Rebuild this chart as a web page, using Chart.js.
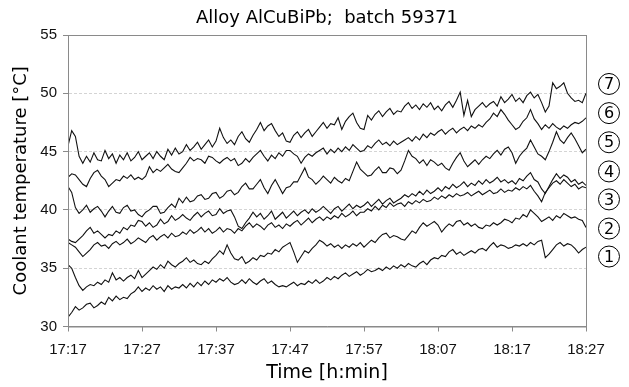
<!DOCTYPE html>
<html>
<head>
<meta charset="utf-8">
<script src="https://cdn.jsdelivr.net/npm/chart.js@4/dist/chart.umd.min.js"></script>
<style>
  body { margin: 0; background: #fff; }
  #wrap { width: 629px; height: 387px; }
</style>
</head>
<body>
<div id="wrap"><canvas id="tempCanvas" width="629" height="387"></canvas></div>
<script>
// time axis: minutes after 17:17, one sample every half minute
let sampleStep = 0.5;
let timeLabels = ['17:17', '17:27', '17:37', '17:47', '17:57', '18:07', '18:17', '18:27'];
let seriesNames = ['1', '2', '3', '4', '5', '6', '7'];
// where the circled numbers sit on the right, in °C
let labelTemps = [36.0, 38.4, 40.9, 43.3, 45.8, 48.3, 50.8];
let chartTitle = 'Alloy AlCuBiPb;  batch 59371';

let temp1 = [30.8, 31.2, 31.7, 31.4, 31.6, 31.9, 32.0, 31.6, 31.8, 32.1,
    31.9, 32.5, 32.2, 32.6, 32.3, 32.5, 32.4, 32.8, 33.0, 33.4,
    33.0, 33.3, 33.1, 33.5, 33.2, 33.4, 33.0, 33.5, 33.2, 33.4,
    33.3, 33.6, 33.3, 33.7, 33.4, 33.8, 33.5, 33.9, 33.6, 34.0,
    33.8, 34.1, 33.9, 34.2, 33.8, 33.6, 33.7, 34.0, 33.7, 34.1,
    33.8, 33.6, 33.9, 34.1, 33.7, 33.9, 33.6, 33.4, 33.5, 33.4,
    33.6, 33.8, 33.5, 33.7, 33.6, 33.9, 33.7, 34.0, 33.7, 33.9,
    34.2, 34.0, 34.3, 34.1, 34.4, 34.6, 34.3, 34.5, 34.7, 34.4,
    34.6, 34.9, 34.7, 34.8, 35.0, 34.8, 35.1, 34.9, 35.2, 35.0,
    35.3, 35.1, 35.4, 35.2, 35.1, 35.4, 35.6, 35.3, 35.7, 35.9,
    35.8, 36.1, 36.0, 36.4, 36.6, 36.2, 36.4, 36.1, 36.3, 36.5,
    36.3, 36.6, 36.7, 36.5, 36.9, 37.2, 36.8, 37.0, 36.9, 36.7,
    36.8, 37.0, 36.9, 37.1, 36.9, 37.2, 37.0, 37.3, 37.4, 35.9,
    36.2, 36.6, 37.0, 37.2, 36.9, 37.1, 37.0, 36.7, 36.3, 36.6,
    36.8];

let temp2 = [35.3, 35.0, 34.2, 33.5, 33.1, 33.4, 33.6, 33.5, 33.8, 33.6,
    34.0, 33.8, 34.6, 34.0, 34.2, 33.9, 34.2, 34.4, 34.1, 34.8,
    34.2, 34.5, 34.8, 35.1, 34.9, 35.3, 35.0, 35.6, 35.3, 35.1,
    35.4, 35.6, 35.9, 35.5, 35.7, 35.4, 35.3, 35.6, 35.4, 35.8,
    36.1, 36.5, 36.2, 37.0, 36.3, 35.8, 35.7, 36.0, 35.4, 35.6,
    35.9, 35.7, 36.1, 36.0, 36.3, 36.2, 36.6, 36.4, 36.8, 37.0,
    37.2, 36.4, 35.5, 36.0, 36.5, 36.3, 36.7, 37.0, 37.4, 37.2,
    36.9, 37.1, 36.8, 37.0, 36.7, 37.0, 36.8, 37.1, 36.9, 37.2,
    36.8, 37.1, 37.4, 37.2, 37.6, 37.9, 38.0, 37.6, 37.8, 37.7,
    37.5, 37.4, 37.8, 38.2, 38.0, 38.5, 38.9, 38.6, 38.8, 39.0,
    38.7, 38.1, 38.5, 38.8, 38.6, 39.0, 39.1, 38.7, 38.9, 38.6,
    38.8, 38.5, 38.4, 38.7, 38.6, 38.9, 38.7, 38.9, 39.2, 39.1,
    38.9, 39.3, 39.2, 39.6, 39.4, 40.0, 39.7, 39.4, 39.0, 39.2,
    39.4, 39.1, 39.5, 39.3, 39.7, 39.5, 39.3, 39.4, 39.2, 39.1,
    38.5];

let temp3 = [37.2, 37.0, 36.8, 36.4, 36.0, 36.3, 36.6, 37.0, 37.2, 36.9,
    37.0, 36.7, 37.1, 37.3, 37.0, 37.2, 37.5, 37.1, 37.3, 37.6,
    37.4, 37.2, 37.6, 37.8, 37.4, 37.7, 37.9, 37.6, 38.0, 37.7,
    37.8, 38.1, 37.9, 38.3, 38.0, 38.2, 38.5, 38.1, 38.4, 38.0,
    38.2, 38.5, 38.1, 38.4, 38.3, 38.0, 38.4, 38.2, 38.6, 38.9,
    38.5, 38.8, 38.6, 38.3, 38.7, 38.9, 38.5, 38.7, 38.4, 38.8,
    38.6, 38.9, 39.1, 38.7, 39.0, 39.3, 38.9, 39.2, 39.4, 39.1,
    39.4, 39.2, 39.5, 39.3, 39.7, 39.4, 39.6, 39.9, 39.5, 39.8,
    39.8, 40.1, 39.9, 40.3, 40.0, 40.4, 40.2, 40.6, 40.3, 40.5,
    40.6, 40.3, 40.7, 40.5, 40.8, 40.6, 40.9, 40.7, 40.8, 41.1,
    40.9, 41.2, 41.0, 41.3, 41.1, 41.4, 41.2, 41.3, 41.5, 41.2,
    41.4, 41.6, 41.3, 41.5, 41.7, 41.4, 41.5, 41.8, 41.5, 41.7,
    41.6, 41.9, 41.7, 42.0, 41.8, 42.1, 41.6, 41.2, 40.7, 41.5,
    41.9, 42.3, 42.5, 42.2, 42.6, 42.3, 42.0, 42.2, 41.8, 42.0,
    41.9];

let temp4 = [37.5, 37.3, 37.2, 37.5, 37.8, 38.2, 38.5, 38.0, 38.2, 37.9,
    37.6, 37.9, 37.8, 38.2, 38.0, 38.5, 38.3, 38.7, 38.6, 39.1,
    39.0, 38.6, 38.9, 38.5, 38.7, 39.2, 38.8, 39.0, 39.5, 39.1,
    39.3, 39.6, 39.3, 39.1, 39.5, 39.8, 39.4, 39.7, 39.9, 39.5,
    39.6, 40.1, 39.7, 39.9, 40.0, 39.4, 38.6, 38.4, 38.9, 39.3,
    39.8, 39.4, 39.7, 39.2, 39.5, 39.9, 39.2, 39.5, 39.8, 39.3,
    39.6, 39.9, 39.5, 39.8, 40.0, 39.7, 40.1, 39.8, 40.0, 40.3,
    40.0, 39.7, 40.1, 40.3, 39.9, 40.2, 40.5, 40.1, 40.4, 40.2,
    40.4, 40.7, 40.3, 40.6, 40.9, 40.5, 40.8, 41.0, 40.6, 40.8,
    41.0, 41.3, 41.1, 41.4, 41.2, 41.6, 41.3, 41.7, 41.4, 41.6,
    41.9, 41.6, 42.0, 41.8, 42.2, 41.9, 42.1, 42.4, 42.0, 42.3,
    42.1, 42.5, 42.2, 42.6, 42.3, 42.5, 42.8, 42.4, 42.6, 42.3,
    42.5, 42.2, 42.7, 42.5, 42.9, 43.2, 42.6, 42.4, 41.8, 41.4,
    42.0, 42.6, 43.1, 42.7, 43.0, 42.8, 42.4, 42.6, 42.2, 42.4,
    42.1];

let temp5 = [42.0, 41.5, 40.2, 39.7, 40.0, 40.4, 39.8, 40.1, 40.3, 39.9,
    39.4, 39.9, 40.3, 39.8, 39.7, 40.2, 40.4, 39.9, 40.0, 39.6,
    39.4, 39.8, 40.0, 40.3, 40.3, 39.7, 39.8, 40.2, 40.5, 40.2,
    41.0, 40.6, 41.1, 40.7, 40.8, 41.2, 41.3, 40.9, 41.0, 41.4,
    41.5, 41.0, 41.2, 41.6, 41.7, 41.3, 41.5, 42.0, 42.3, 41.8,
    41.8, 42.2, 42.6, 41.9, 41.4, 42.1, 42.6, 42.0, 41.4, 41.9,
    42.0, 42.4, 42.4, 43.0, 43.6, 42.8, 42.6, 42.2, 42.5, 42.9,
    42.6, 42.3, 42.8, 42.5, 42.3, 42.7, 42.5, 43.3, 44.1, 43.5,
    43.2, 42.9, 43.0, 43.4, 43.7, 43.2, 43.2, 43.6, 43.5, 43.1,
    43.4, 44.2, 45.1, 44.6, 44.4, 44.0, 44.3, 43.8, 44.3, 44.1,
    43.8, 44.0, 43.6, 43.4, 44.0, 44.5, 44.9, 44.2, 43.7, 44.0,
    44.3, 43.9, 44.3, 44.6, 44.4, 44.8, 45.1, 44.7, 45.2, 45.4,
    44.9, 44.0, 44.6, 45.0, 45.3, 46.0, 45.4, 44.8, 44.6, 44.3,
    45.0, 45.8, 46.7, 46.0, 45.7, 46.2, 46.6, 46.1, 45.5, 44.9,
    45.2];

let temp6 = [42.8, 43.1, 43.0, 42.6, 42.2, 42.0, 42.7, 43.2, 43.4, 42.9,
    42.6, 42.0, 42.3, 42.6, 42.5, 42.9, 42.7, 43.0, 42.6, 42.8,
    42.6, 42.9, 43.7, 43.2, 43.5, 43.3, 43.6, 43.9, 43.5, 43.3,
    43.2, 43.6, 44.0, 44.5, 44.2, 44.4, 44.3, 44.0, 44.6, 44.5,
    44.2, 44.0, 44.3, 44.5, 44.2, 44.4, 43.8, 44.0, 44.4, 44.1,
    44.5, 44.8, 45.1, 44.6, 44.2, 44.7, 44.4, 44.9, 44.6, 45.1,
    45.1, 44.8, 44.6, 44.0, 44.5, 44.8, 44.6, 44.9, 45.1, 45.3,
    44.8, 45.2, 44.9, 45.3, 45.0, 45.4, 45.1, 45.6, 45.3, 45.0,
    45.1, 45.5, 45.3, 45.7, 46.0, 45.6, 45.8, 45.5, 45.9, 45.6,
    45.8, 46.0, 46.2, 45.9, 46.3, 46.0, 46.5, 46.2, 46.6, 46.4,
    46.7, 46.9, 46.5, 46.8, 47.0, 46.6, 46.9, 47.1, 46.8, 47.2,
    47.0, 47.3, 47.1, 47.5, 47.8, 48.3, 48.0, 48.6, 48.2, 47.7,
    47.3, 46.9, 47.1, 47.6, 47.9, 48.6, 47.8, 47.4, 46.9, 47.3,
    47.0, 47.4, 47.1, 46.9, 47.2, 47.0, 47.3, 47.5, 47.4, 47.6,
    47.9];

let temp7 = [45.5, 46.8, 46.3, 44.6, 44.0, 44.6, 44.1, 44.9, 44.3, 44.2,
    45.1, 44.4, 44.8, 44.0, 44.7, 44.3, 44.9, 44.2, 44.5, 45.0,
    44.3, 44.6, 44.9, 44.4, 45.0, 44.6, 44.3, 45.2, 44.7, 45.3,
    44.8, 45.0, 45.6, 45.1, 45.4, 45.8, 45.2, 45.6, 46.0, 45.4,
    45.9, 47.0, 46.2, 45.7, 46.0, 45.6, 46.3, 46.7, 46.1, 45.8,
    46.4, 46.9, 47.5, 46.8, 47.2, 47.4, 46.8, 46.3, 46.6, 45.9,
    45.8, 46.4, 46.7, 46.2, 46.6, 46.9, 46.3, 46.7, 47.1, 47.5,
    47.0, 47.4, 47.3, 47.9, 46.9, 47.6, 48.0, 48.3, 47.5, 47.0,
    46.9, 48.1, 47.7, 48.2, 48.5, 48.0, 48.4, 48.7, 48.2, 48.5,
    48.4, 48.9, 49.2, 48.7, 49.0, 48.6, 49.1, 48.8, 49.2, 48.6,
    48.9, 48.5, 49.0, 49.3, 48.8, 49.4, 50.1, 48.1, 49.4, 48.0,
    48.6, 48.9, 49.2, 48.8, 49.1, 49.3, 48.9, 49.7, 49.2, 49.5,
    49.9, 49.3, 49.6, 49.2, 49.8, 50.1, 49.6, 49.9, 49.2, 48.4,
    48.9, 50.9, 50.4, 50.6, 50.9, 50.0, 49.6, 49.3, 49.4, 49.2,
    50.0];

let allSeries = [temp1, temp2, temp3, temp4, temp5, temp6, temp7];

let canvas = document.getElementById("tempCanvas");
let ctx = canvas.getContext("2d");

function toPoints(values) {
    let points = [];
    for (let i = 0; i < values.length; i++) {
        points.push({ x: i * sampleStep, y: values[i] });
    }
    return points;
}

let datasets = [];
for (let i = 0; i < allSeries.length; i++) {
    datasets.push({
        label: seriesNames[i],
        data: toPoints(allSeries[i]),
        borderColor: '#111',
        borderWidth: 1.1,
        pointRadius: 0,
        tension: 0,
        fill: false
    });
}

// title centred over the plot, grey box round the plot, circled series numbers
let framePlugin = {
    id: 'frameAndTags',
    afterDatasetsDraw(chart) {
        let area = chart.chartArea;
        let c = chart.ctx;
        c.save();
        c.strokeStyle = '#8a8a8a';
        c.lineWidth = 1;
        c.strokeRect(area.left + 0.5, area.top + 0.5, area.right - area.left, area.bottom - area.top);

        c.fillStyle = '#000';
        c.font = '18px "DejaVu Sans"';
        c.textAlign = 'center';
        c.textBaseline = 'middle';
        c.fillText(chartTitle, (area.left + area.right) / 2, 18);

        let yScale = chart.scales.y;
        c.font = '16px "DejaVu Sans"';
        c.strokeStyle = '#000';
        for (let i = 0; i < seriesNames.length; i++) {
            let cy = yScale.getPixelForValue(labelTemps[i]);
            let cx = 609;
            c.beginPath();
            c.arc(cx, cy, 10.5, 0, Math.PI * 2);
            c.stroke();
            c.fillText(seriesNames[i], cx, cy + 1);
        }
        c.restore();
    }
};

let tempChart = new Chart(ctx, {
    type: 'line',
    data: { datasets: datasets },
    plugins: [framePlugin],
    options: {
        responsive: false,
        animation: false,
        layout: { padding: { left: 0, right: 43, top: 35, bottom: 0 } },
        plugins: {
            legend: { display: false },
            tooltip: { enabled: false },
            title: { display: false }
        },
        scales: {
            x: {
                type: 'linear',
                min: 0,
                max: 70,
                afterFit(scale) { scale.height = 60.5; },
                ticks: {
                    stepSize: 10,
                    color: '#111',
                    font: { family: '"Liberation Sans"', size: 15 },
                    padding: 9,
                    maxRotation: 0,
                    callback: function (value) {
                        return timeLabels[Math.round(value / 10)];
                    }
                },
                grid: {
                    drawOnChartArea: false,
                    tickLength: 5,
                    tickColor: '#8a8a8a'
                },
                border: { color: '#8a8a8a' },
                title: {
                    display: true,
                    text: 'Time [h:min]',
                    color: '#000',
                    font: { family: '"DejaVu Sans"', size: 19 },
                    padding: { top: 0, bottom: 3 }
                }
            },
            y: {
                min: 30,
                max: 55,
                afterFit(scale) { scale.width = 68; },
                ticks: {
                    stepSize: 5,
                    color: '#111',
                    font: { family: '"Liberation Sans"', size: 15 },
                    padding: 6
                },
                grid: {
                    color: function (c) {
                        if (c.tick && (c.tick.value === 30 || c.tick.value === 55)) return 'rgba(0,0,0,0)';
                        return '#d4d4d4';
                    },
                    tickLength: 5,
                    tickColor: '#8a8a8a',
                    tickBorderDash: []
                },
                border: { color: '#8a8a8a', dash: [3, 2] },
                title: {
                    display: true,
                    text: 'Coolant temperature [°C]',
                    color: '#000',
                    font: { family: '"DejaVu Sans"', size: 18 },
                    padding: { top: 11, bottom: 0 }
                }
            }
        }
    }
});
</script>
</body>
</html>
